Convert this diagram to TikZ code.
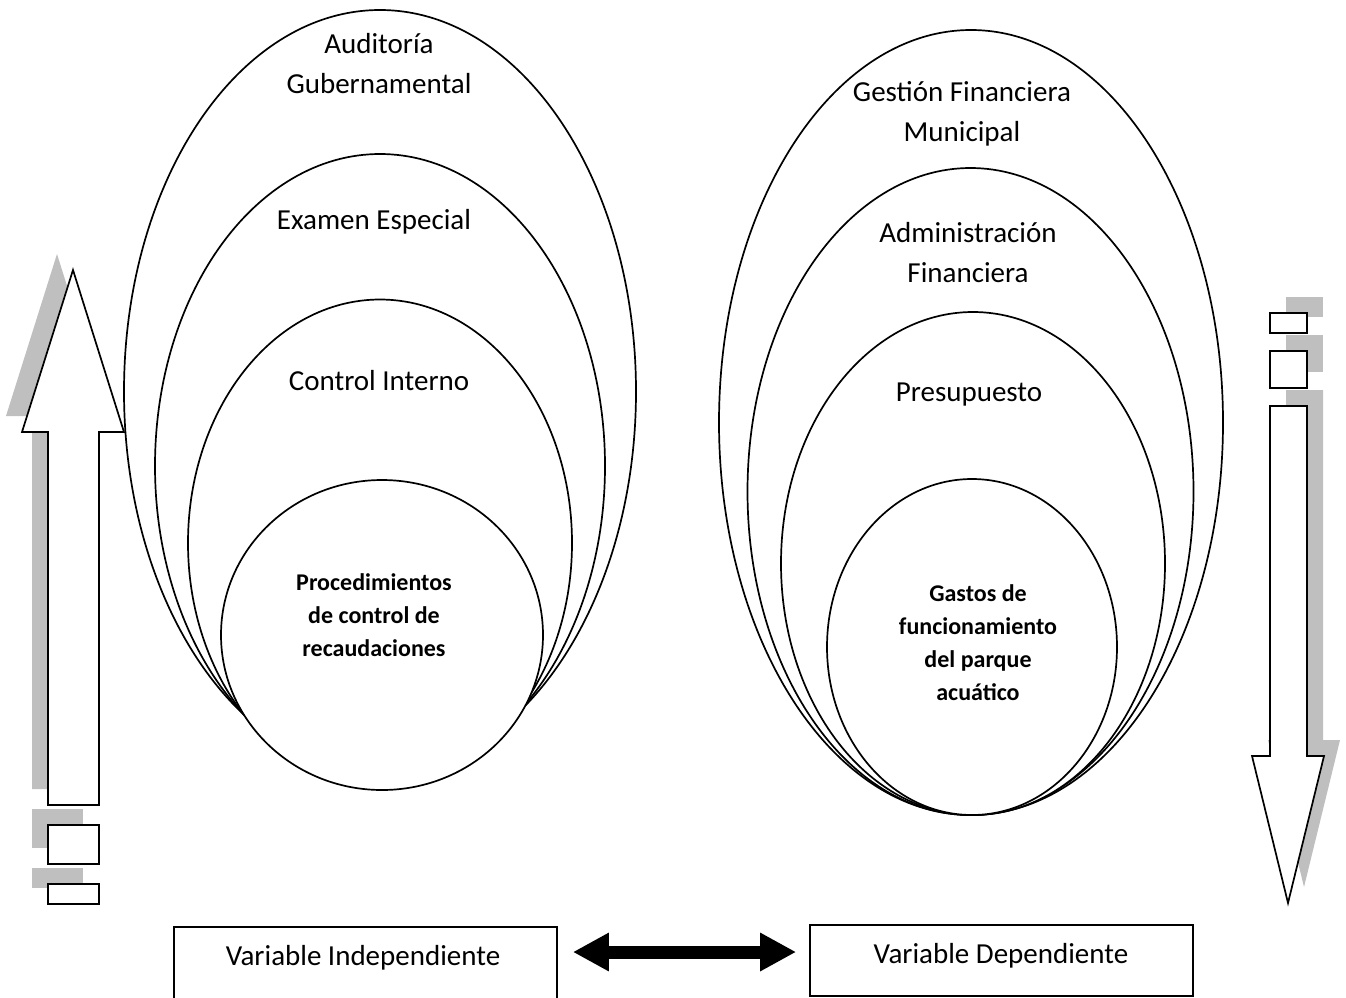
\documentclass[tikz,border=0pt]{standalone}
\usepackage{fontspec}
\setmainfont{Carlito}
\usetikzlibrary{shapes.geometric,arrows.meta}
\begin{document}
\begin{tikzpicture}[x=1pt,y=-1pt,
  ell/.style={draw, line width=1.7pt, fill=white, ellipse, inner sep=0pt},
  lbl/.style={font=\fontsize{29}{40}\selectfont, align=center, inner sep=0pt},
  blbl/.style={font=\fontsize{24}{33}\selectfont\bfseries, align=center, inner sep=0pt},
  shad/.style={fill=black!25, draw=none},
  arr/.style={draw, line width=1.7pt, fill=white, line join=miter},
  sbox/.style={draw, line width=1.7pt, fill=white, rectangle, inner sep=0pt},
  varbox/.style={draw, line width=1.7pt, rectangle, inner sep=0pt, minimum width=383pt},
  dbl/.style={line width=13pt, {Triangle[length=36pt,width=36pt]}-{Triangle[length=36pt,width=36pt]}},
]
\useasboundingbox (0,0) rectangle (1346,997);

% left group of ellipses
\node[ell, minimum width=512pt, minimum height=763pt] (a1) at (380,391.5) {};
\node[ell, minimum width=450pt, minimum height=624pt] (a2) at (380,466) {};
\node[ell, minimum width=384pt, minimum height=487pt] (a3) at (380,543) {};
\node[ell, minimum width=322pt, minimum height=310pt] (a4) at (382,635) {};

\node[lbl] (ta1) at (379,64) {Auditoría\\Gubernamental};
\node[lbl] (ta2) at (374,222) {Examen Especial};
\node[lbl] (ta3) at (379,381) {Control Interno};
\node[blbl] (ta4) at (374,615) {Procedimientos\\de control de\\recaudaciones};

% right group of ellipses
\node[ell, minimum width=504pt, minimum height=785pt] (b1) at (971,422.5) {};
\node[ell, minimum width=446pt, minimum height=647pt] (b2) at (970.5,491.5) {};
\node[ell, minimum width=384pt, minimum height=503pt] (b3) at (973,563.5) {};
\node[ell, minimum width=290pt, minimum height=336pt] (b4) at (972,647) {};

\node[lbl] (tb1) at (962,114) {Gestión Financiera\\Municipal};
\node[lbl] (tb2) at (968,253) {Administración\\Financiera};
\node[lbl] (tb3) at (969,395) {Presupuesto};
\node[blbl] (tb4) at (978,643) {Gastos de\\funcionamiento\\del parque\\acuático};

% left up arrow with shadow
\fill[shad] (32,789) -- (32,416) -- (6,416) -- (57,254) -- (108,416) -- (83,416) -- (83,789) -- cycle;
\filldraw[arr] (48,805) -- (48,432) -- (22,432) -- (73,270) -- (124,432) -- (99,432) -- (99,805) -- cycle;
\fill[shad] (32,809) rectangle (83,848);
\fill[shad] (32,868) rectangle (83,888);
\node[sbox, minimum width=51pt, minimum height=39pt] (l1) at (73.5,844.5) {};
\node[sbox, minimum width=51pt, minimum height=20pt] (l2) at (73.5,894) {};

% right down arrow with shadow
\fill[shad] (1286,390) -- (1323,390) -- (1323,740) -- (1340,740) -- (1304,887) -- (1268,740) -- (1286,740) -- cycle;
\filldraw[arr] (1270,406) -- (1307,406) -- (1307,756) -- (1324,756) -- (1288,903) -- (1252,756) -- (1270,756) -- cycle;
\fill[shad] (1286,297) rectangle (1323,317);
\fill[shad] (1286,335) rectangle (1323,372);
\node[sbox, minimum width=37pt, minimum height=20pt] (r1) at (1288.5,323) {};
\node[sbox, minimum width=37pt, minimum height=37pt] (r2) at (1288.5,369.5) {};

% bottom boxes
\node[varbox, minimum height=72pt] (vi) at (365.5,963) {};
\node[varbox, minimum height=71pt] (vd) at (1001.5,960.5) {};
\node[lbl] (vit) at (363,958) {Variable Independiente};
\node[lbl] (vdt) at (1001,956) {Variable Dependiente};

\coordinate (ay) at (0,952);
\draw[dbl, shorten <=15pt, shorten >=13pt] (vi.east |- ay) -- (vd.west |- ay);
\end{tikzpicture}
\end{document}
